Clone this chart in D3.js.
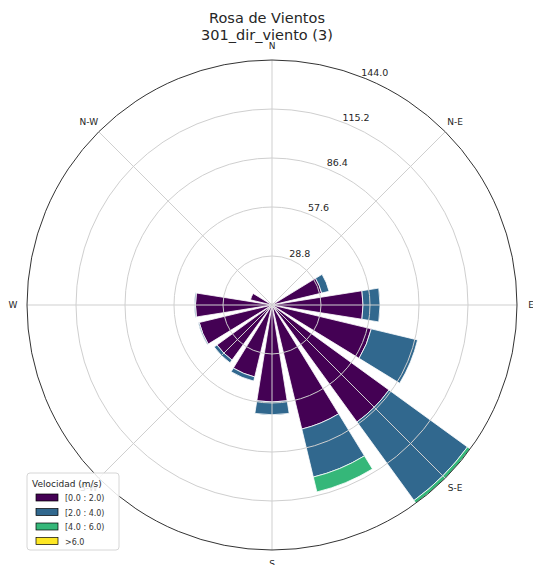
<!DOCTYPE html>
<html lang="es">
<head>
<meta charset="utf-8">
<title>Rosa de Vientos</title>
<script src="https://d3js.org/d3.v7.min.js"></script>
<style>
  body { margin: 0; background: #fff; }
  svg { font-family: "DejaVu Sans", sans-serif; }
</style>
</head>
<body>
<script>
// sectores (16 direcciones, sentido horario desde el norte)
var directions = ["N", "NNE", "NE", "ENE", "E", "ESE", "SE", "SSE",
                  "S", "SSW", "SW", "WSW", "W", "WNW", "NW", "NNW"];
// frecuencias por clase de velocidad
var bin0 = [1, 1, 1.5, 30, 53.5, 60, 85, 75, 57, 43.5, 40, 44, 45, 13, 1, 1];
var bin1 = [0, 0, 0, 4.5, 10, 28, 57, 29, 7.5, 2.5, 2, 0.6, 0.6, 0, 0, 0];
var bin2 = [0, 0, 0, 0, 0, 0, 2, 9, 0, 0, 0, 0, 0, 0, 0, 0];
var bin3 = [0, 0, 0, 0, 0, 0, 0, 0, 0, 0, 0, 0, 0, 0, 0, 0];
var binLabels = ["[0.0 : 2.0)", "[2.0 : 4.0)", "[4.0 : 6.0)", ">6.0"];
var radialTicks = [28.8, 57.6, 86.4, 115.2, 144.0];
var compassLabels = ["N", "N-E", "E", "S-E", "S", "S-W", "W", "N-W"];

var w = 533, h = 565;
var cx = 272, cy = 305, R = 245;

var svg = d3.select("body").append("svg")
  .attr("width", w)
  .attr("height", h);

var color = d3.scaleOrdinal()
  .domain(d3.range(4))
  .range(["#440154", "#31688e", "#35b779", "#fde725"]);

var r = d3.scaleLinear().domain([0, 144]).range([0, R]);

var rows = directions.map(function(d, i) {
  return { dir: d, i: i, b0: bin0[i], b1: bin1[i], b2: bin2[i], b3: bin3[i] };
});
var stack = d3.stack().keys(["b0", "b1", "b2", "b3"]);
var series = stack(rows);

var sector = 2 * Math.PI / directions.length;
var opening = sector * 0.8;

var g = svg.append("g").attr("transform", "translate(" + cx + "," + cy + ")");

var arc = d3.arc()
  .innerRadius(function(d) { return r(d[0]); })
  .outerRadius(function(d) { return r(d[1]); })
  .startAngle(function(d) { return d.data.i * sector - opening / 2; })
  .endAngle(function(d) { return d.data.i * sector + opening / 2; });

// barras
g.selectAll("g.serie")
  .data(series)
  .enter().append("g")
  .attr("class", "serie")
  .attr("fill", function(d, k) { return color(k); })
  .selectAll("path")
  .data(function(d) { return d.filter(function(p) { return p[1] > p[0]; }); })
  .enter().append("path")
  .attr("d", arc)
  .attr("stroke", "#fff")
  .attr("stroke-width", 0.8);

// rejilla encima de las barras
g.selectAll("circle.grid")
  .data(radialTicks.slice(0, -1))
  .enter().append("circle")
  .attr("class", "grid")
  .attr("r", function(d) { return r(d); })
  .attr("fill", "none")
  .attr("stroke", "#cfcfcf")
  .attr("stroke-width", 1);

g.selectAll("line.spoke")
  .data(d3.range(8))
  .enter().append("line")
  .attr("class", "spoke")
  .attr("x1", 0).attr("y1", 0)
  .attr("x2", function(k) { return R * Math.sin(k * Math.PI / 4); })
  .attr("y2", function(k) { return -R * Math.cos(k * Math.PI / 4); })
  .attr("stroke", "#cfcfcf")
  .attr("stroke-width", 1);

g.append("circle")
  .attr("r", R)
  .attr("fill", "none")
  .attr("stroke", "#333")
  .attr("stroke-width", 1);

// etiquetas radiales a 22.5 grados
var ra = 22.5 * Math.PI / 180;
g.selectAll("text.rlab")
  .data(radialTicks)
  .enter().append("text")
  .attr("class", "rlab")
  .attr("x", function(d) { return r(d) * Math.sin(ra) + 9; })
  .attr("y", function(d) { return -r(d) * Math.cos(ra) - 3; })
  .attr("text-anchor", "middle")
  .attr("font-size", 9.5)
  .attr("fill", "#262626")
  .text(function(d) { return d.toFixed(1); });

// puntos cardinales
g.selectAll("text.card")
  .data(compassLabels)
  .enter().append("text")
  .attr("class", "card")
  .attr("x", function(d, k) { return 259 * Math.sin(k * Math.PI / 4); })
  .attr("y", function(d, k) { return -259 * Math.cos(k * Math.PI / 4); })
  .attr("dy", "0.35em")
  .attr("text-anchor", "middle")
  .attr("font-size", 9)
  .attr("fill", "#262626")
  .text(function(d) { return d; });

// titulo
svg.append("text")
  .attr("x", 267).attr("y", 23)
  .attr("text-anchor", "middle")
  .attr("font-size", 14.5)
  .attr("fill", "#262626")
  .text("Rosa de Vientos");
svg.append("text")
  .attr("x", 267).attr("y", 40)
  .attr("text-anchor", "middle")
  .attr("font-size", 14.5)
  .attr("fill", "#262626")
  .text("301_dir_viento (3)");

// leyenda
var legend = svg.append("g").attr("transform", "translate(27,473)");
legend.append("rect")
  .attr("width", 92).attr("height", 77)
  .attr("rx", 3)
  .attr("fill", "#fff").attr("fill-opacity", 0.85)
  .attr("stroke", "#d6d6d6");
legend.append("text")
  .attr("x", 5).attr("y", 14)
  .attr("font-size", 9)
  .attr("fill", "#262626")
  .text("Velocidad (m/s)");
var items = legend.selectAll("g.item")
  .data(binLabels)
  .enter().append("g")
  .attr("class", "item")
  .attr("transform", function(d, k) { return "translate(9," + (21 + k * 14.5) + ")"; });
items.append("rect")
  .attr("width", 22).attr("height", 7)
  .attr("fill", function(d, k) { return color(k); })
  .attr("stroke", "#000").attr("stroke-width", 0.7);
items.append("text")
  .attr("x", 29).attr("y", 7)
  .attr("font-size", 8)
  .attr("fill", "#333")
  .text(function(d) { return d; });
</script>
</body>
</html>
